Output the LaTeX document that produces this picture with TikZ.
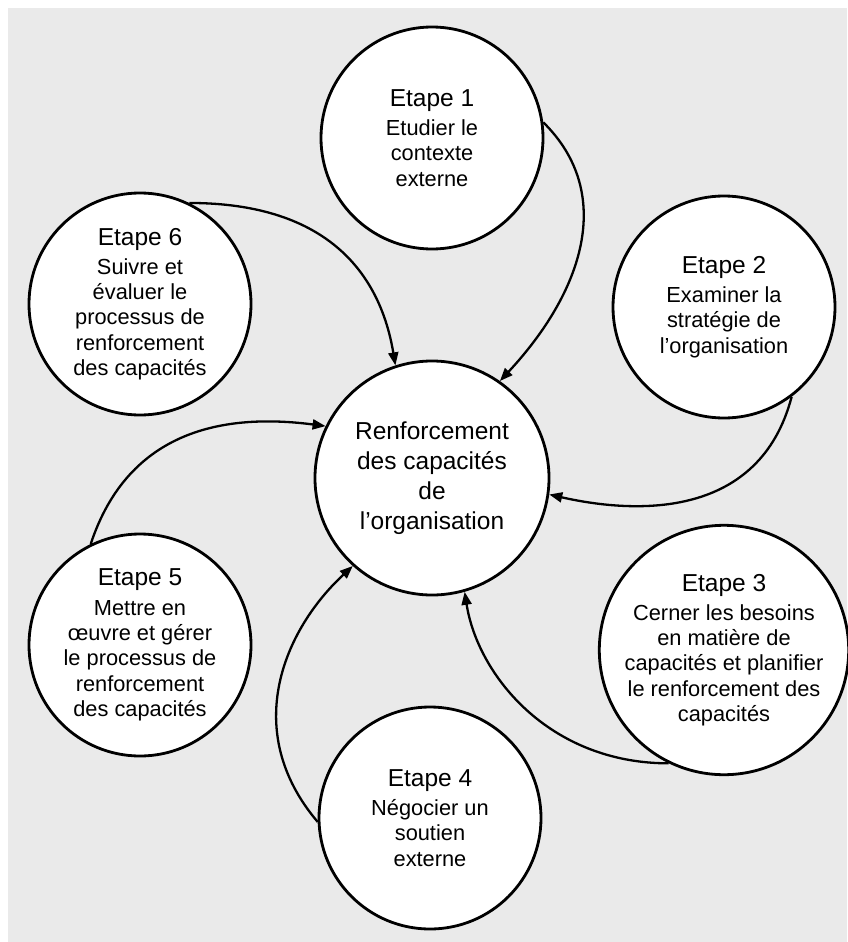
\documentclass[tikz,border=0pt]{standalone}
\usepackage{fontspec}
\setmainfont{Liberation Sans}
\usetikzlibrary{arrows.meta}
\definecolor{fondgris}{HTML}{EAEAEA}
\newcommand{\titre}{\fontsize{24.5}{30}\selectfont}
\newcommand{\corps}{\fontsize{21.8}{25.3}\selectfont}

\begin{document}
\begin{tikzpicture}[x=1pt, y=-1pt,
		etape/.style={circle, draw, line width=2.8pt, fill=white, minimum size=222pt, inner sep=0pt, align=center, font=\corps},
		centre/.style={circle, draw, line width=2.8pt, fill=white, minimum size=234pt, inner sep=0pt, align=center, font=\titre},
		fleche/.style={line width=2.3pt, -{Triangle[length=13pt, width=10pt]}}]
		%%%%% START %%%%%
		
		\useasboundingbox (0, 0) rectangle (847, 942);
		\fill[fondgris] (8, 8) rectangle (847, 942);
		
		\node[centre] (c) at (432, 478) {Renforcement\\des capacités\\de\\l’organisation};
		
		\node[etape] (s1) at (432, 138) {{\titre Etape 1}\\[4pt]Etudier le\\contexte\\externe};
		\node[etape] (s2) at (724, 307) {{\titre Etape 2}\\[4pt]Examiner la\\stratégie de\\l’organisation};
		\node[etape] (s3) at (724, 650) {{\titre Etape 3}\\[4pt]Cerner les besoins\\en matière de\\capacités et planifier\\le renforcement des\\capacités};
		\node[etape] (s4) at (430, 818) {{\titre Etape 4}\\[4pt]Négocier un\\soutien\\externe};
		\node[etape] (s5) at (140, 645) {{\titre Etape 5}\\[4pt]Mettre en\\œuvre et gérer\\le processus de\\renforcement\\des capacités};
		\node[etape] (s6) at (140, 304) {{\titre Etape 6}\\[4pt]Suivre et\\évaluer le\\processus de\\renforcement\\des capacités};
		
		\draw[fleche] (s1.8) .. controls +(73, 72) and +(82, -88) .. (c.55);
		\draw[fleche] (s2.-53) .. controls +(-32, 122) and +(88, 20) .. (c.-8);
		\draw[fleche] (s3.244) .. controls +(-120, 0) and +(13, 83) .. (c.-74);
		\draw[fleche] (s4.182) .. controls +(-78, -92) and +(-68, 63) .. (c.228);
		\draw[fleche] (s5.116) .. controls +(38, -115) and +(-100, -13) .. (c.154);
		\draw[fleche] (s6.64) .. controls +(140, 0) and +(-15, -90) .. (c.108);
		
		%%%%% END %%%%%
	\end{tikzpicture}
\end{document}
